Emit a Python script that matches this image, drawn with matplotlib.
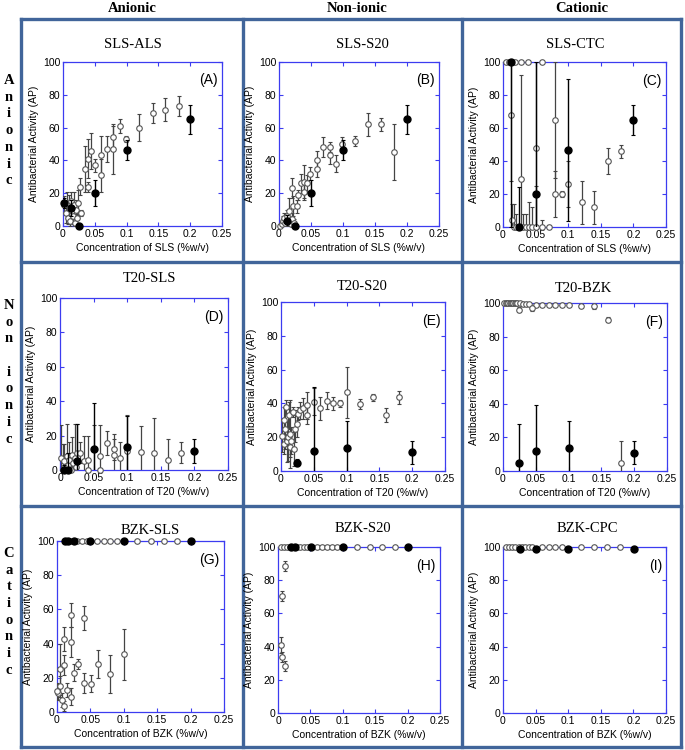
import matplotlib
matplotlib.use("Agg")
import matplotlib.pyplot as plt

# ---- data (x = concentration %w/v, y = AP, e = error) ----
# open symbols = mixtures, filled = single surfactant
a_x = [0.002, 0.004, 0.006, 0.008, 0.009, 0.011, 0.012, 0.014, 0.016, 0.017, 0.019, 0.02, 0.022, 0.024,
       0.027, 0.028, 0.035, 0.039, 0.039, 0.044, 0.05, 0.06, 0.06, 0.069, 0.079, 0.079, 0.089, 0.099,
       0.12, 0.141, 0.161, 0.183]
a_y = [13, 8, 14, 5, 11, 3, 15, 9, 6, 13, 2, 10, 5, 14, 24, 8, 35, 41, 24, 46, 37, 43, 31, 47, 54, 47, 61, 53,
       60, 69, 71, 73]
a_e = [5, 6, 7, 4, 8, 3, 6, 7, 5, 8, 2, 6, 4, 8, 5, 2, 14, 12, 3, 11, 4, 12, 10, 8, 7, 15, 4, 2, 8, 6, 7, 6]
a_fx = [0.002, 0.0125, 0.025, 0.05, 0.1, 0.2]
a_fy = [14, 11, 0, 20, 46.5, 65]
a_fe = [3, 5, 1, 8, 6, 9]

b_x = [0.002, 0.004, 0.006, 0.008, 0.01, 0.012, 0.014, 0.016, 0.018, 0.02, 0.02, 0.022, 0.024, 0.028, 0.029,
       0.034, 0.039, 0.039, 0.043, 0.048, 0.059, 0.059, 0.069, 0.079, 0.079, 0.089, 0.099, 0.118, 0.139,
       0.159, 0.18]
b_y = [0, 1, 3, 5, 2, 6, 3, 9, 1, 4, 23, 12, 2, 12, 19, 26, 27, 21, 26, 32, 40, 35, 48, 48, 43, 38, 50, 52, 62,
       62, 45]
b_e = [1, 2, 3, 3, 2, 4, 3, 8, 2, 4, 6, 6, 2, 4, 3, 6, 10, 5, 5, 4, 6, 5, 6, 3, 5, 5, 4, 3, 7, 4, 17]
b_fx = [0.0125, 0.025, 0.05, 0.1, 0.2]
b_fy = [3, 0, 20, 46.5, 65]
b_fe = [4, 1, 8, 6, 9]

c_x = [0.004, 0.009, 0.014, 0.019, 0.027, 0.039, 0.06, 0.012, 0.027, 0.05, 0.08, 0.08, 0.09, 0.1, 0.121,
       0.14, 0.161, 0.181, 0.06, 0.07, 0.014, 0.017, 0.02, 0.03, 0.035, 0.04, 0.045, 0.05]
c_y = [100, 100, 100, 100, 100, 100, 100, 68, 29, 48, 65, 20, 20, 26, 15, 12, 40, 46, 0, 0, 4, 0, 0, 0, 0, 0,
       0, 0]
c_e = [0, 0, 0, 0, 0, 0, 0, 40, 63, 52, 35, 14, 2, 14, 13, 10, 8, 4, 4, 1, 10, 14, 8, 8, 8, 15, 12, 25]
c_fx = [0.012, 0.025, 0.05, 0.1, 0.2]
c_fy = [100, 0, 20, 46.4, 65]
c_fe = [100, 24, 80, 43, 9]

d_x = [0.002, 0.004, 0.006, 0.008, 0.01, 0.012, 0.014, 0.016, 0.018, 0.02, 0.022, 0.024, 0.026, 0.03, 0.035,
       0.041, 0.041, 0.05, 0.06, 0.06, 0.07, 0.08, 0.08, 0.09, 0.1, 0.12, 0.14, 0.16, 0.18]
d_y = [7, 0, 5, 2, 8, 3, 6, 0, 9, 4, 7, 2, 10, 10, 5, 6, 0, 12, 8, 0, 15.5, 9, 12, 7, 11, 10.5, 10, 6, 10]
d_e = [19, 15, 10, 6, 19, 7, 10, 6, 10, 6, 20, 5, 17, 6, 15, 14, 1, 14, 18, 1, 7, 12, 6, 9, 21, 15, 20, 12, 6]
d_fx = [0.006, 0.0125, 0.025, 0.05, 0.1, 0.2]
d_fy = [0, 0, 5, 12, 13.5, 11]
d_fe = [3, 10, 22, 27, 18, 7]

e_x = [0.002, 0.004, 0.004, 0.006, 0.008, 0.009, 0.011, 0.012, 0.014, 0.014, 0.016, 0.018, 0.02, 0.022,
       0.024, 0.026, 0.029, 0.034, 0.04, 0.04, 0.05, 0.06, 0.07, 0.08, 0.09, 0.1, 0.12, 0.14, 0.16, 0.18]
e_y = [21, 30, 16, 25, 38, 17.5, 20, 33, 22, 14, 18, 35, 13, 25, 28, 34, 36, 37, 39, 33, 41, 37, 41.6, 40, 40,
       46.5, 39.5, 43.6, 33, 43.6]
e_e = [10, 8, 6, 12, 4, 12, 14, 8, 20, 6, 8, 3, 10, 8, 8, 4, 5, 6, 8, 5, 8, 7, 5, 4, 2, 15, 3, 2, 4, 4]
e_fx = [0.025, 0.05, 0.1, 0.2]
e_fy = [5, 12, 13.5, 11]
e_fe = [2, 38, 16, 7]

f_x = [0.002, 0.004, 0.006, 0.008, 0.01, 0.012, 0.014, 0.016, 0.018, 0.02, 0.022, 0.026, 0.03, 0.035, 0.04,
       0.05, 0.06, 0.07, 0.08, 0.09, 0.1, 0.119, 0.139, 0.16, 0.18, 0.044, 0.024]
f_y = [100, 100, 100, 100, 100, 100, 100, 100, 100, 100, 100, 100, 99.5, 99.5, 99.5, 99, 99, 99, 99, 99, 99,
       98.5, 98, 90, 5, 97, 96]
f_e = [1, 1, 1, 1, 1, 1, 1, 1, 1, 1, 1, 1, 1, 1, 1, 1, 1, 1, 1, 1, 1, 1, 1.5, 1.5, 13, 1.5, 1.5]
f_fx = [0.025, 0.05, 0.1, 0.2]
f_fy = [5, 12, 13.5, 11]
f_fe = [23, 27, 16, 7]

g_x = [0.012, 0.02, 0.03, 0.037, 0.045, 0.06, 0.07, 0.08, 0.09, 0.12, 0.14, 0.16, 0.18,
       0.1, 0.08, 0.061, 0.051, 0.041, 0.041, 0.031, 0.026, 0.021, 0.021, 0.021, 0.011, 0.011, 0.011,
       0.015, 0.005, 0.004, 0.002, 0.007, 0.0]
g_y = [100, 100, 100, 100, 100, 100, 100, 100, 100, 100, 100, 100, 100,
       33.7, 22.4, 28, 16.5, 55, 17, 28, 23, 56.5, 41, 9, 42.6, 27.6, 3.3, 13, 25, 15, 11, 7, 12]
g_e = [0] * 13 + [15, 11, 8, 5, 7, 6, 3, 5, 7, 9, 5, 7, 6, 3, 4, 15, 6, 4, 4, 5]
g_fx = [0.0125, 0.017, 0.025, 0.05, 0.1, 0.2]
g_fy = [100, 100, 100, 100, 100, 100]
g_fe = [0, 0, 0, 0, 0, 0]

h_x = [0.004, 0.009, 0.014, 0.019, 0.029, 0.034, 0.04, 0.045, 0.06, 0.068, 0.075, 0.083, 0.091, 0.122,
       0.142, 0.16, 0.181, 0.011, 0.006, 0.004, 0.006, 0.011]
h_y = [100] * 17 + [88.6, 70.4, 41, 34, 28.4]
h_e = [0] * 17 + [3, 3, 5, 3, 3]
h_fx = [0.02, 0.026, 0.051, 0.101, 0.201]
h_fy = [100, 100, 100, 100, 100]
h_fe = [0, 0, 0, 0, 0]

i_x = [0.004, 0.009, 0.014, 0.019, 0.024, 0.029, 0.034, 0.04, 0.045, 0.06, 0.07, 0.08, 0.09, 0.12, 0.14,
       0.16, 0.18]
i_y = [100] * 17
i_e = [0] * 17
i_fx = [0.0255, 0.051, 0.1, 0.201]
i_fy = [99, 99, 99, 99]
i_fe = [0, 0, 0, 0]

titles = ["SLS-ALS", "SLS-S20", "SLS-CTC", "T20-SLS", "T20-S20", "T20-BZK", "BZK-SLS", "BZK-S20", "BZK-CPC"]
letters = ["(A)", "(B)", "(C)", "(D)", "(E)", "(F)", "(G)", "(H)", "(I)"]
xlabels = ["Concentration of SLS (%w/v)"] * 3 + ["Concentration of T20 (%w/v)"] * 3 + \
          ["Concentration of BZK (%w/v)"] * 3
col_heads = ["Anionic", "Non-ionic", "Cationic"]
row_heads = ["Anionic", "Non ionic", "Cationic"]

panels = [(a_x, a_y, a_e, a_fx, a_fy, a_fe), (b_x, b_y, b_e, b_fx, b_fy, b_fe),
          (c_x, c_y, c_e, c_fx, c_fy, c_fe), (d_x, d_y, d_e, d_fx, d_fy, d_fe),
          (e_x, e_y, e_e, e_fx, e_fy, e_fe), (f_x, f_y, f_e, f_fx, f_fy, f_fe),
          (g_x, g_y, g_e, g_fx, g_fy, g_fe), (h_x, h_y, h_e, h_fx, h_fy, h_fe),
          (i_x, i_y, i_e, i_fx, i_fy, i_fe)]

# ---- layout (pixels) ----
W, H = 685, 750
boxes = [(63, 62, 222, 226), (279, 62, 439, 226), (503, 62, 666, 227),
         (60, 298, 228, 470), (281, 302, 445, 471), (503, 303, 667, 471),
         (57, 541, 224, 712), (278, 547, 440, 713), (503, 547, 666, 713)]
title_pos = [(133, 45), (362, 45), (575, 45), (150, 279), (362, 287), (583, 288),
             (150, 530), (363, 529), (587, 529)]

sans = "Liberation Sans"
serif = "Liberation Serif"
blue = "#3c3cf0"
frame = "#41659a"

fig = plt.figure(figsize=(W / 100, H / 100), dpi=100)

# panel frame grid
bg = fig.add_axes([0, 0, 1, 1], zorder=-5)
bg.set_xlim(0, W)
bg.set_ylim(H, 0)
bg.axis("off")
gx = [21, 243, 462, 681]
gy = [19, 262, 506, 747]
for x in gx:
    bg.plot([x, x], [gy[0], gy[-1]], color=frame, lw=2.4, solid_capstyle="projecting")
for y in gy:
    bg.plot([gx[0], gx[-1]], [y, y], color=frame, lw=2.4, solid_capstyle="projecting")

for k in range(3):
    bg.text([132, 357, 582][k], 8, col_heads[k], ha="center", va="center",
            fontsize=10.5, fontweight="bold", family=serif)
    bg.text(9, [74, 299, 547][k], "\n".join(row_heads[k]), ha="center", va="top",
            fontsize=10.5, fontweight="bold", family=serif, linespacing=1.37)

for n in range(9):
    l, t, r, b = boxes[n]
    ax = fig.add_axes([l / W, 1 - b / H, (r - l) / W, (b - t) / H])
    ox, oy, oe, fx, fy, fe = panels[n]
    eb1 = ax.errorbar(ox, oy, yerr=oe, fmt="o", ms=4, mfc="white", mec="#555555", mew=0.8,
                      ecolor="#444444", elinewidth=0.9, capsize=1.5, capthick=0.8, zorder=3)
    eb2 = ax.errorbar(fx, fy, yerr=fe, fmt="o", ms=5, mfc="black", mec="black",
                      ecolor="black", elinewidth=1.0, capsize=1.5, capthick=0.8, zorder=4)
    # markers may sit on the spines, the bars stay inside the axes
    eb1[0].set_clip_on(False)
    eb2[0].set_clip_on(False)
    ax.set_xlim(0, 0.25)
    ax.set_ylim(0, 100)
    ax.set_xticks([0, 0.05, 0.1, 0.15, 0.2, 0.25])
    ax.set_xticklabels(["0", "0.05", "0.1", "0.15", "0.2", "0.25"])
    ax.set_yticks([0, 20, 40, 60, 80, 100])
    for s in ax.spines.values():
        s.set_color(blue)
        s.set_linewidth(0.9)
    ax.tick_params(direction="in", top=True, right=True, length=3, width=0.8, color=blue,
                   labelsize=7.5, pad=2)
    for lab in ax.get_xticklabels() + ax.get_yticklabels():
        lab.set_family(sans)
    ax.set_xlabel(xlabels[n], fontsize=7.5, family=sans, labelpad=3)
    ax.set_ylabel("Antibacterial Activity (AP)", fontsize=7.5, family=sans, labelpad=3)
    ax.text(0.975, 0.93, letters[n], transform=ax.transAxes, ha="right", va="top",
            fontsize=10, family=sans)
    bg.text(title_pos[n][0], title_pos[n][1], titles[n], ha="center", va="center",
            fontsize=10.5, family=serif)

fig.savefig("out.png", dpi=100)
